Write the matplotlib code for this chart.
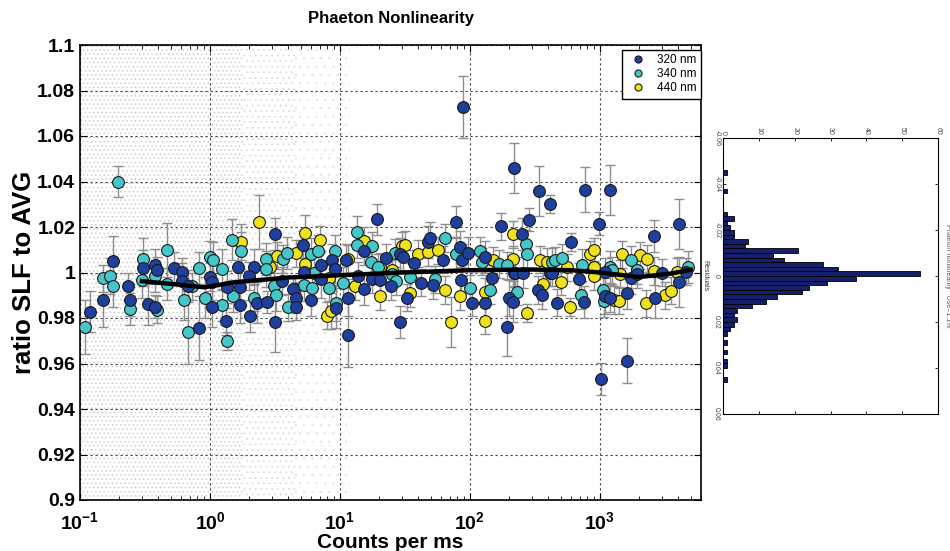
import matplotlib
matplotlib.use('Agg')
import matplotlib.pyplot as plt

plt.rcParams['font.family'] = ['Liberation Sans', 'DejaVu Sans']
plt.rcParams['mathtext.fontset'] = 'custom'
plt.rcParams['mathtext.bf'] = 'Liberation Sans:bold'
plt.rcParams['mathtext.rm'] = 'Liberation Sans'
plt.rcParams['hatch.linewidth'] = 0.5

# 320 nm (blue)
x320 = [0.119, 0.151, 0.180, 0.232, 0.242, 0.306, 0.334, 0.376, 0.38, 0.39, 0.53, 0.61, 0.61, 0.68, 0.83,
        1.0, 1.04, 1.04, 1.34, 1.36, 1.64, 1.7, 1.7, 2.02, 2.2, 1.98, 2.3, 2.75, 3.15, 3.19, 3.6, 4.35, 4.6,
        4.6, 5.2, 5.3, 6.0, 7.2, 7.2, 8.7, 9.2, 9.3, 11.1, 11.5, 11.6, 13.8, 15.4, 15.4, 17.6, 19.4, 20.3,
        22.5, 24.5, 29.1, 29.1, 30.3, 33, 37.3, 42.2, 48, 49.5, 52, 62, 78.5, 84.4, 86, 86.5, 88.5, 96.5,
        104, 131, 131, 147, 175, 193, 199, 213, 217, 222, 252, 255, 283, 334, 338, 359, 411, 416, 429, 468,
        601, 689, 760, 774, 982, 1023, 1104, 1104, 1194, 1207, 1623, 1623, 1722, 1916, 2616, 2666, 3015,
        4030, 4055, 4565]
y320 = [0.9827, 0.988, 1.005, 0.994, 0.988, 1.002, 0.986, 1.0034, 0.985, 1.001, 1.002, 1.0003, 0.9963, 0.994,
        0.9755, 0.998, 0.996, 0.985, 0.9785, 0.9936, 1.0025, 0.9936, 0.9856, 0.981, 1.0025, 0.9985, 0.9867,
        0.987, 0.9782, 1.017, 0.9963, 0.9926, 0.989, 0.985, 1.0123, 1.0004, 0.988, 1.0034, 0.997, 1.0056,
        1.0015, 0.9844, 1.0055, 0.9726, 0.989, 0.9985, 1.0093, 0.9926, 0.997, 1.0233, 0.9966, 1.0064, 0.994,
        0.9784, 1.0083, 1.0066, 0.989, 1.004, 0.9956, 1.0134, 1.0152, 0.9944, 1.0057, 1.0224, 1.0113, 0.9966,
        1.0054, 1.0727, 1.0086, 0.9867, 1.0069, 0.9864, 0.9974, 1.0203, 0.9762, 0.9887, 0.9871, 1.046, 1.0,
        1.017, 1.0, 1.0232, 0.9923, 1.0357, 0.990, 1.030, 1.0, 1.0, 0.9868, 1.0135, 0.997, 0.9871, 1.0364,
        1.0215, 0.9531, 1.0003, 0.9896, 0.9886, 1.0364, 0.9911, 0.9613, 0.9974, 0.9993, 1.0161, 0.989, 1.0,
        1.0212, 0.9959, 1.0003]
e320 = [0.009, 0.012, 0.011, 0.006, 0.007, 0.008, 0.009, 0.007, 0.005, 0.006, 0.007, 0.006, 0.008, 0.007,
        0.014, 0.006, 0.008, 0.009, 0.006, 0.007, 0.009, 0.007, 0.008, 0.007, 0.008, 0.006, 0.009, 0.005,
        0.013, 0.007, 0.006, 0.006, 0.007, 0.006, 0.006, 0.006, 0.007, 0.006, 0.008, 0.007, 0.006, 0.009,
        0.007, 0.014, 0.008, 0.006, 0.006, 0.007, 0.006, 0.007, 0.006, 0.006, 0.006, 0.007, 0.007, 0.006,
        0.006, 0.006, 0.006, 0.007, 0.007, 0.006, 0.006, 0.007, 0.007, 0.006, 0.007, 0.0135, 0.007, 0.006,
        0.007, 0.006, 0.006, 0.006, 0.013, 0.008, 0.009, 0.011, 0.006, 0.007, 0.007, 0.005, 0.006, 0.011,
        0.006, 0.004, 0.006, 0.006, 0.006, 0.004, 0.007, 0.007, 0.010, 0.005, 0.007, 0.006, 0.008, 0.006,
        0.011, 0.007, 0.010, 0.007, 0.006, 0.007, 0.009, 0.006, 0.011, 0.011, 0.006]

# 340 nm (cyan)
x340 = [0.109, 0.151, 0.170, 0.180, 0.197, 0.242, 0.30, 0.306, 0.38, 0.39, 0.47, 0.471, 0.63, 0.678, 0.73,
        0.818, 0.91, 1.0, 1.05, 1.24, 1.24, 1.36, 1.48, 1.5, 1.72, 2.2, 2.7, 2.7, 3.1, 3.25, 3.64, 3.9, 3.95,
        4.5, 5.3, 6.0, 6.1, 6.3, 6.8, 8.2, 9.2, 9.4, 10.5, 13.5, 13.5, 17.4, 17.6, 19.8, 25, 26.6, 27, 34.8,
        54, 63.8, 78, 100.7, 120, 125, 143, 168, 193, 220, 230, 270, 275, 429, 450, 512, 716, 730, 1059,
        1084, 1207, 1243, 1740, 1916, 4760]
y340 = [0.976, 0.9975, 0.9985, 0.994, 1.040, 0.984, 0.9966, 1.006, 0.9985, 0.9837, 0.9948, 1.0099, 0.988,
        0.974, 0.994, 1.002, 0.989, 1.007, 1.0055, 1.0015, 0.9856, 0.970, 1.0144, 0.9896, 1.0096, 0.989,
        1.006, 1.0015, 0.994, 0.990, 1.006, 1.0084, 0.9847, 0.9926, 0.9945, 1.008, 0.9933, 1.0, 1.0096,
        0.9933, 1.0096, 0.9867, 0.9956, 1.0178, 1.0123, 1.0044, 1.0118, 1.0022, 0.9993, 1.0086, 0.9963,
        0.998, 0.997, 1.0152, 1.0083, 0.993, 1.0095, 1.0047, 0.9923, 1.0037, 1.0032, 0.9996, 0.9916, 1.0127,
        1.008, 1.0047, 1.0054, 1.0064, 0.990, 1.0032, 0.9923, 0.9876, 1.0025, 1.001, 1.0057, 1.001, 1.0025]
e340 = [0.012, 0.006, 0.008, 0.009, 0.007, 0.007, 0.008, 0.009, 0.007, 0.006, 0.007, 0.012, 0.009, 0.014,
        0.006, 0.007, 0.009, 0.007, 0.008, 0.009, 0.007, 0.004, 0.009, 0.007, 0.008, 0.006, 0.007, 0.008,
        0.006, 0.007, 0.006, 0.007, 0.006, 0.006, 0.007, 0.007, 0.006, 0.007, 0.007, 0.006, 0.007, 0.008,
        0.007, 0.007, 0.006, 0.006, 0.006, 0.006, 0.006, 0.006, 0.006, 0.006, 0.006, 0.006, 0.007, 0.006,
        0.006, 0.006, 0.006, 0.006, 0.006, 0.006, 0.006, 0.006, 0.006, 0.006, 0.006, 0.006, 0.006, 0.007,
        0.007, 0.007, 0.007, 0.006, 0.006, 0.006, 0.007]

# 440 nm (yellow)
x440 = [1.72, 2.37, 2.9, 3.3, 4.6, 5.42, 5.42, 7.08, 8.0, 8.2, 8.6, 11.5, 13, 15.4, 20.3, 20.5, 25, 30, 31.8,
        34.8, 39.8, 48, 56.7, 63.8, 71.8, 84, 130, 130, 150, 213, 214, 275, 348, 363, 393, 506, 560, 594,
        836, 898, 898, 898, 1280, 1400, 1440, 1485, 2054, 2270, 2313, 2600, 3150, 3548, 3937]
y440 = [1.0133, 1.0222, 1.0025, 1.0074, 1.0084, 1.0173, 1.0037, 1.0144, 0.981, 0.9978, 0.983, 1.006, 0.994,
        1.014, 0.9896, 1.0025, 1.001, 1.0118, 1.0123, 0.9908, 1.0083, 1.009, 1.0098, 0.9923, 0.9784, 0.9896,
        0.9916, 0.9788, 1.0054, 1.0168, 1.0058, 0.9823, 1.0057, 0.995, 1.0047, 0.9959, 1.0022, 0.985, 1.008,
        1.0101, 1.0025, 0.9984, 0.9879, 0.9876, 0.9993, 1.008, 1.0076, 0.9864, 1.0061, 1.0007, 0.990, 0.992,
        1.0003]
e440 = [0.008, 0.012, 0.006, 0.006, 0.006, 0.008, 0.006, 0.006, 0.006, 0.006, 0.008, 0.006, 0.006, 0.006,
        0.006, 0.006, 0.006, 0.006, 0.006, 0.006, 0.006, 0.006, 0.006, 0.006, 0.011, 0.006, 0.006, 0.006,
        0.006, 0.006, 0.006, 0.004, 0.006, 0.006, 0.006, 0.006, 0.006, 0.004, 0.006, 0.005, 0.006, 0.006,
        0.006, 0.006, 0.006, 0.006, 0.006, 0.006, 0.006, 0.006, 0.006, 0.006, 0.006]

# smoothed trend (black line)
trend_x = [0.3, 0.5, 0.9, 1.6, 4, 10, 30, 100, 300, 600, 1000, 2000, 3500, 5000]
trend_y = [0.9962, 0.9950, 0.9935, 0.9958, 0.9978, 0.9988, 1.0, 1.001, 1.0013, 1.001, 1.0, 0.998, 0.9995, 1.0012]

# residual histogram (right panel)
hist_centers = [-0.045, -0.037, -0.027, -0.025, -0.023, -0.021, -0.019, -0.017, -0.015, -0.013, -0.011,
                -0.009, -0.007, -0.005, -0.003, -0.001, 0.001, 0.003, 0.005, 0.007, 0.009, 0.011, 0.013,
                0.015, 0.017, 0.019, 0.021, 0.023, 0.025, 0.029, 0.033, 0.037, 0.039, 0.045]
hist_counts = [1, 1, 1, 3, 1, 2, 3, 3, 7, 6, 21, 14, 17, 28, 32, 55, 37, 29, 24, 22, 15, 12, 8, 4, 3, 4, 3,
               2, 1, 1, 1, 1, 1, 1]

series = [
    ('320 nm', x320, y320, e320, '#1f3f9e'),
    ('340 nm', x340, y340, e340, '#45c6c9'),
    ('440 nm', x440, y440, e440, '#ede21c'),
]

fig = plt.figure(figsize=(9.5, 5.51), dpi=100)
ax = fig.add_axes([80 / 950, 51 / 551, 621 / 950, 455 / 551])
ax.set_xscale('log')
ax.set_xlim(0.1, 6000)
ax.set_ylim(0.9, 1.1)

# faint background cloud of raw samples
ax.fill_between([0.1, 1.8], 0.9, 1.1, facecolor='none', edgecolor='#c6c6c6', hatch='....', linewidth=0, zorder=0)
ax.fill_between([1.8, 4.5], 0.9, 1.1, facecolor='none', edgecolor='#d8d8d8', hatch='...', linewidth=0, zorder=0)
ax.fill_between([4.5, 12], 0.9, 1.1, facecolor='none', edgecolor='#e6e6e6', hatch='..', linewidth=0, zorder=0)

ax.grid(True, which='major', linestyle=(0, (2, 2.5)), color='#444444', linewidth=0.8)
ax.set_axisbelow(True)

for label, xs, ys, es, col in series[::-1]:
    ax.errorbar(xs, ys, yerr=es, fmt='none', ecolor='#8e8e8e', elinewidth=1, capsize=3.5, capthick=1, zorder=2)
for label, xs, ys, es, col in series[::-1]:
    ax.plot(xs, ys, 'o', ms=8.5, mfc=col, mec='#1a1a1a', mew=0.8, zorder=3, label=label)

ax.plot(trend_x, trend_y, '-', color='black', lw=3.2, zorder=4)

ax.set_xticks([0.1, 1, 10, 100, 1000])
ax.set_xticklabels([r'$\mathbf{10^{-1}}$', r'$\mathbf{10^{0}}$', r'$\mathbf{10^{1}}$',
                    r'$\mathbf{10^{2}}$', r'$\mathbf{10^{3}}$'])
yt = [0.9, 0.92, 0.94, 0.96, 0.98, 1.0, 1.02, 1.04, 1.06, 1.08, 1.1]
ax.set_yticks(yt)
ax.set_yticklabels(['0.9', '0.92', '0.94', '0.96', '0.98', '1', '1.02', '1.04', '1.06', '1.08', '1.1'])
ax.tick_params(which='both', direction='in', top=True, right=True)
ax.tick_params(which='major', length=5, labelsize=14)
ax.tick_params(axis='x', which='major', pad=8)
ax.tick_params(which='minor', length=3)
for t in ax.get_yticklabels():
    t.set_fontweight('bold')
for s in ax.spines.values():
    s.set_linewidth(1.2)

ax.set_xlabel('Counts per ms', fontsize=15, fontweight='bold', labelpad=0)
ax.set_ylabel('ratio SLF to AVG', fontsize=18.5, fontweight='bold', labelpad=1)
ax.set_title('Phaeton Nonlinearity', fontsize=12, fontweight='bold', pad=16)

handles, labels = ax.get_legend_handles_labels()
leg = ax.legend(handles[::-1], labels[::-1], loc='upper right', fontsize=8.5, fancybox=False, framealpha=1,
                edgecolor='black', markerscale=0.6, handletextpad=0.6, borderpad=0.35, labelspacing=0.2,
                borderaxespad=0, bbox_to_anchor=(1.0, 0.99))
leg.get_frame().set_linewidth(1.0)

# rotated residual histogram
ax2 = fig.add_axes([723 / 950, 137 / 551, 215 / 950, 276 / 551])
ax2.barh(hist_centers, hist_counts, height=0.002, color='#14206c', edgecolor='black', linewidth=0.6)
ax2.set_xlim(0, 60)
ax2.set_ylim(0.06, -0.06)
ax2.xaxis.tick_top()
ax2.set_xticks([0, 10, 20, 30, 40, 50, 60])
ax2.set_xticklabels(['0', '10', '20', '30', '40', '50', '60'], rotation=-90)
ax2.set_yticks([-0.06, -0.04, -0.02, 0, 0.02, 0.04, 0.06])
ax2.set_yticklabels(['-0.06', '-0.04', '-0.02', '0', '0.02', '0.04', '0.06'], rotation=-90, va='center')
ax2.tick_params(direction='in', top=True, bottom=True, left=True, right=True, length=2.5, width=0.6,
                labelsize=5, labelcolor='#444444', pad=2)
for s in ax2.spines.values():
    s.set_linewidth(0.8)
ax2.text(-0.085, 0.5, 'Residuals', transform=ax2.transAxes, rotation=-90, ha='center', va='center',
         fontsize=5, color='#333333')
ax2.text(1.045, 0.5, 'Phaeton nonlinearity   Use=1.1%', transform=ax2.transAxes, rotation=-90,
         ha='center', va='center', fontsize=5, color='#555555')

fig.savefig('out.png', dpi=100)
